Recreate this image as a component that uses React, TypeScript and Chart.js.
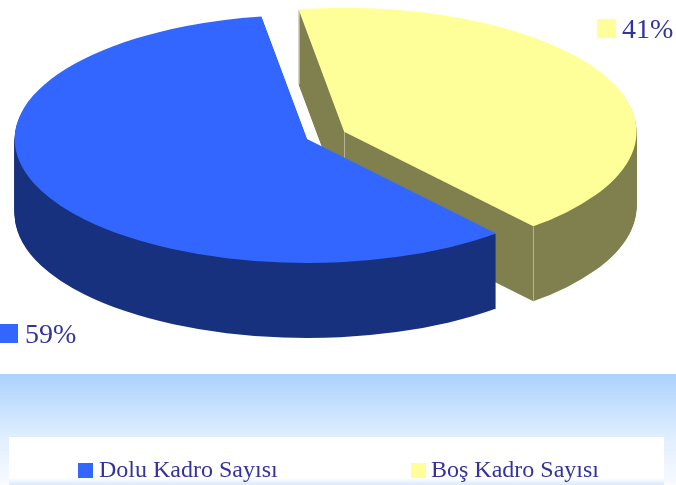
import React, { useEffect, useRef } from "react";
import { Chart, registerables } from "chart.js";

Chart.register(...registerables);

const categories = ["Dolu Kadro Sayısı", "Boş Kadro Sayısı"];
const values = [58.7, 41.3];
const topColours = ["#3366ff", "#ffff99"];
const wallColours = ["#17317f", "#80804f"];
const edgeColour = "#b3b38f";
const textColour = "#333399";
const serif = "'Liberation Serif', serif";

const centre = { x: 325.6, y: 135.4 };
const squash = 0.424;
const depth = 75;
const explode = 20.4;

const pie3d = {
  id: "pie3d",
  beforeDraw(chart: any) {
    const { ctx } = chart;
    ctx.save();
    const g = ctx.createLinearGradient(0, 374, 0, 485);
    g.addColorStop(0, "#abd2fd");
    g.addColorStop(0.57, "#e0eeff");
    g.addColorStop(1, "#f8fbff");
    ctx.fillStyle = "#ffffff";
    ctx.fillRect(0, 0, 676, 485);
    ctx.fillStyle = g;
    ctx.fillRect(0, 374, 676, 111);
    ctx.fillStyle = "#ffffff";
    ctx.fillRect(9, 437, 655, 48);
    const f = ctx.createLinearGradient(0, 478, 0, 485);
    f.addColorStop(0, "#ffffff");
    f.addColorStop(1, "#d9e9fd");
    ctx.fillStyle = f;
    ctx.fillRect(9, 478, 655, 7);
    ctx.restore();
  },
  beforeDatasetsDraw(chart: any) {
    const { ctx } = chart;
    const arcs = chart.getDatasetMeta(0).data;
    const layer = document.createElement("canvas");
    layer.width = chart.width;
    layer.height = chart.height;
    const lctx = layer.getContext("2d")!;
    const apex = (arc: any) => {
      const half = (arc.startAngle + arc.endAngle) / 2;
      return {
        x: centre.x + Math.cos(half) * explode,
        y: centre.y + Math.sin(half) * explode * squash,
      };
    };
    const place = (c: CanvasRenderingContext2D, arc: any, dy: number) => {
      const a = apex(arc);
      c.translate(a.x, a.y + dy);
      c.scale(1, squash);
      c.translate(-arc.x, -arc.y);
    };
    // Yellow slice goes first, the blue one lies over it.
    [1, 0].forEach((i) => {
      const arc = arcs[i];
      const base = arc.options;
      arc.options = { ...base, backgroundColor: wallColours[i], borderColor: wallColours[i], borderWidth: 0 };
      lctx.globalCompositeOperation = "source-over";
      lctx.clearRect(0, 0, layer.width, layer.height);
      lctx.globalCompositeOperation = "destination-over";
      for (let dy = 1; dy <= depth; dy++) {
        lctx.save();
        place(lctx, arc, dy);
        arc.draw(lctx);
        lctx.restore();
      }
      // Repaint the stacked wall in one exact colour, keeping its outline.
      lctx.globalCompositeOperation = "source-in";
      lctx.fillStyle = wallColours[i];
      lctx.fillRect(0, 0, layer.width, layer.height);
      ctx.drawImage(layer, 0, 0);
      arc.options = base;
      if (i === 1) {
        const a = apex(arc);
        const r = arc.outerRadius;
        const points = [
          [a.x, a.y],
          [a.x + Math.cos(arc.startAngle) * r, a.y + Math.sin(arc.startAngle) * r * squash],
          [a.x + Math.cos(arc.endAngle) * r, a.y + Math.sin(arc.endAngle) * r * squash],
        ];
        ctx.save();
        ctx.strokeStyle = edgeColour;
        ctx.lineWidth = 1;
        points.forEach(([px, py]) => {
          const x = Math.round(px) + 0.5;
          ctx.beginPath();
          ctx.moveTo(x, py);
          ctx.lineTo(x, py + depth);
          ctx.stroke();
        });
        ctx.restore();
      }
      ctx.save();
      place(ctx, arc, 0);
      arc.draw(ctx);
      ctx.restore();
    });
    return false;
  },
  afterDraw(chart: any) {
    const { ctx } = chart;
    const labels = [
      { i: 0, bx: -1, by: 324, tx: 25, ty: 343 },
      { i: 1, bx: 597, by: 19, tx: 622, ty: 38 },
    ];
    ctx.save();
    ctx.textBaseline = "alphabetic";
    labels.forEach(({ i, bx, by, tx, ty }) => {
      ctx.fillStyle = topColours[i];
      ctx.fillRect(bx, by, 19, 19);
      ctx.fillStyle = textColour;
      ctx.font = `28px ${serif}`;
      ctx.fillText(`${Math.round(values[i])}%`, tx, ty);
    });
    const legend = [
      { i: 0, bx: 78, tx: 99 },
      { i: 1, bx: 411, tx: 431 },
    ];
    legend.forEach(({ i, bx, tx }) => {
      ctx.fillStyle = topColours[i];
      ctx.fillRect(bx, 463, 15, 15);
      ctx.fillStyle = textColour;
      ctx.font = `24px ${serif}`;
      ctx.fillText(categories[i], tx, 477);
    });
    ctx.restore();
  },
};

export default function App() {
  const ref = useRef<HTMLCanvasElement>(null);
  useEffect(() => {
    document.body.style.margin = "0";
    const chart = new Chart(ref.current!, {
      type: "pie",
      data: {
        labels: categories,
        datasets: [
          {
            data: values,
            backgroundColor: topColours,
            borderWidth: 0,
          },
        ],
      },
      options: {
        responsive: false,
        animation: false,
        radius: 292.4,
        rotation: 139.7,
        events: [],
        plugins: {
          tooltip: { enabled: false },
          legend: { display: false },
        },
      } as any,
      plugins: [pie3d],
    });
    return () => chart.destroy();
  }, []);
  return (
    <div style={{ position: "fixed", left: 0, top: 0, width: 676, height: 485, overflow: "hidden" }}>
      <canvas ref={ref} width={676} height={485} style={{ display: "block" }} />
    </div>
  );
}
